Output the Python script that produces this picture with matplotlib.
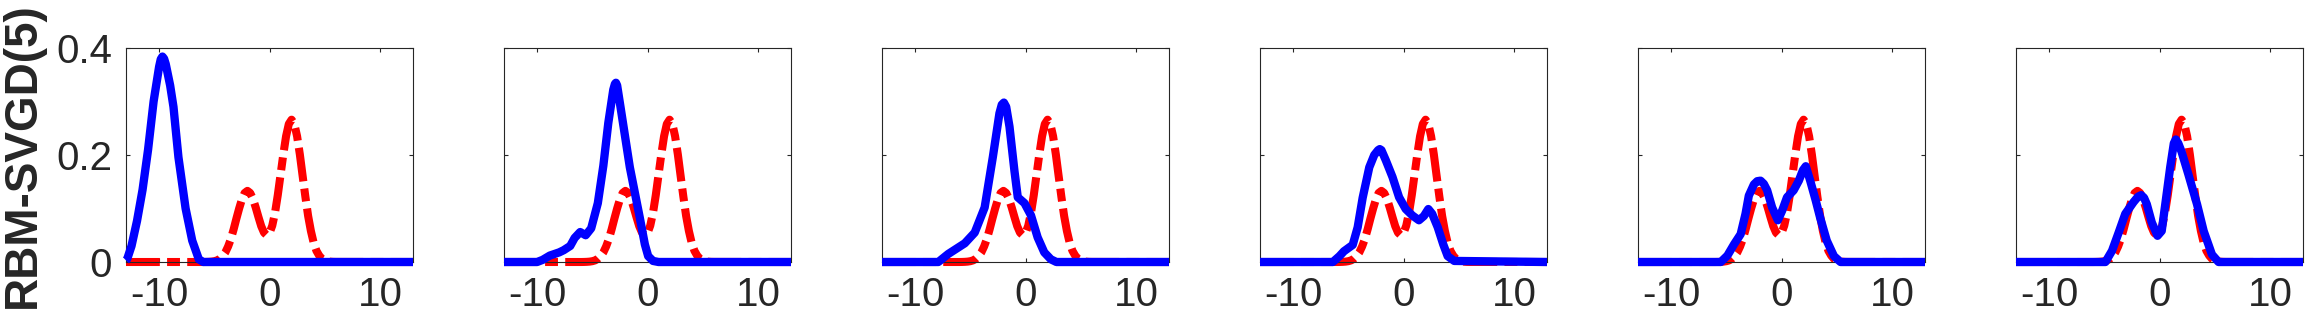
import matplotlib
matplotlib.use("Agg")
import matplotlib.pyplot as plt

# target density (red, same in every panel)
target_x = [-13, -6, -5.75, -5.5, -5.25, -5, -4.75, -4.5, -4.25, -4, -3.75, -3.5, -3.25, -3, -2.75,
            -2.5, -2.25, -2, -1.75, -1.5, -1.25, -1, -0.75, -0.5, -0.25, 0, 0.25, 0.5, 0.75, 1,
            1.25, 1.5, 1.75, 2, 2.25, 2.5, 2.75, 3, 3.25, 3.5, 3.75, 4, 4.25, 4.5, 4.75, 5,
            5.25, 5.5, 5.75, 6, 13]
target_y = [0, 0, 0.0001, 0.0003, 0.0007, 0.0015, 0.003, 0.006, 0.011, 0.018, 0.029, 0.043, 0.061, 0.081, 0.100,
            0.117, 0.129, 0.133, 0.129, 0.118, 0.102, 0.084, 0.067, 0.055, 0.050, 0.054, 0.068, 0.092, 0.125, 0.163,
            0.201, 0.235, 0.258, 0.266, 0.258, 0.235, 0.201, 0.161, 0.122, 0.086, 0.058, 0.036, 0.021, 0.012, 0.006, 0.003,
            0.0013, 0.0006, 0.0002, 0.0001, 0]

# RBM-SVGD(5) estimates, one per panel (blue)
est_x1 = [-13, -12.9, -12.5, -12, -11.5, -11, -10.5, -10, -9.85, -9.7, -9.55, -9.4, -9, -8.7, -8.25, -7.6, -7, -6.4, -6, 13]
est_y1 = [0.003, 0.005, 0.03, 0.077, 0.135, 0.21, 0.30, 0.365, 0.379, 0.384, 0.380, 0.370, 0.33, 0.29, 0.196, 0.10, 0.04, 0.005, 0, 0]

est_x2 = [-13, -10, -9.5, -8.85, -8, -7.6, -7, -6.6, -6.1, -5.6, -5.1, -4.5, -4.0, -3.55, -3.1, -2.95, -2.86, -2.75, -2.5,
          -2.05, -1.6, -1.15, -0.7, -0.24, 0.06, 0.5, 1, 13]
est_y2 = [0, 0, 0.004, 0.012, 0.018, 0.022, 0.03, 0.045, 0.056, 0.05, 0.063, 0.11, 0.18, 0.26, 0.322, 0.333, 0.335, 0.330, 0.297,
          0.237, 0.177, 0.13, 0.083, 0.033, 0.011, 0.002, 0, 0]

est_x3 = [-13, -7.9, -7.0, -5.5, -4.6, -3.7, -2.96, -2.36, -2.15, -1.96, -1.75, -1.45, -1.0, -0.7, -0.09, 0.5, 1.1, 1.7, 2.3, 2.8, 13]
est_y3 = [0, 0, 0.015, 0.035, 0.055, 0.102, 0.196, 0.278, 0.294, 0.298, 0.290, 0.253, 0.170, 0.121, 0.11, 0.087, 0.046, 0.018, 0.005, 0, 0]

est_x4 = [-13, -6.4, -5.8, -5.4, -4.6, -4.15, -3.7, -3.1, -2.65, -2.3, -2.15, -2.0, -1.6, -1.0, -0.4, 0.2, 0.8, 1.4, 1.85,
          2.25, 2.6, 3.1, 3.6, 4.0, 4.6, 13]
est_y4 = [0, 0, 0.011, 0.02, 0.032, 0.065, 0.12, 0.177, 0.2, 0.209, 0.211, 0.209, 0.19, 0.159, 0.121, 0.099, 0.087, 0.078, 0.086,
          0.099, 0.09, 0.065, 0.033, 0.011, 0.002, 0]

est_x5 = [-13, -5.5, -4.9, -4.3, -3.7, -3.26, -2.96, -2.5, -2.2, -1.9, -1.6, -1.3, -0.85, -0.33, 0.06, 0.5, 1.1, 1.57, 1.95,
          2.2, 2.6, 3.1, 3.5, 4.1, 4.75, 5.35, 13]
est_y5 = [0, 0, 0.012, 0.033, 0.052, 0.09, 0.124, 0.145, 0.151, 0.152, 0.146, 0.134, 0.102, 0.078, 0.096, 0.121, 0.134, 0.152, 0.172,
          0.179, 0.152, 0.115, 0.083, 0.04, 0.011, 0, 0]

est_x6 = [-13, -4.9, -4.3, -3.7, -3.1, -2.35, -1.95, -1.66, -1.4, -1.15, -0.7, -0.18, 0.2, 0.57, 0.97, 1.3, 1.48, 1.7, 2.0,
          2.6, 3.4, 4.0, 4.75, 5.35, 13]
est_y6 = [0, 0, 0.021, 0.055, 0.09, 0.112, 0.122, 0.125, 0.12, 0.108, 0.074, 0.049, 0.058, 0.115, 0.177, 0.222, 0.229, 0.222, 0.206,
          0.165, 0.108, 0.058, 0.014, 0, 0]

est_x = [est_x1, est_x2, est_x3, est_x4, est_x5, est_x6]
est_y = [est_y1, est_y2, est_y3, est_y4, est_y5, est_y6]

x_ticks = [-10, 0, 10]
y_ticks = [0, 0.2, 0.4]
y_ticklabels = ['0', '0.2', '0.4']
row_label = 'RBM-SVGD(5)'

plt.rcParams['font.family'] = ['Liberation Sans', 'DejaVu Sans']
plt.rcParams['axes.unicode_minus'] = False

W, H = 2311, 321
fig = plt.figure(figsize=(W / 100, H / 100), dpi=100)

axgray = '#262626'
for k in range(6):
    left = (126 + 378 * k) / W
    ax = fig.add_axes([left, 59 / H, 287 / W, 214 / H])
    ax.plot(target_x, target_y, color='red', lw=5.8, dashes=(4.2, 0.9, 1.6, 0.9),
            clip_on=False, zorder=2)
    ax.plot(est_x[k], est_y[k], color='blue', lw=6.0, solid_joinstyle='round',
            solid_capstyle='butt', clip_on=False, zorder=3)
    ax.set_xlim(-13, 13)
    ax.set_ylim(0, 0.4)
    ax.set_xticks(x_ticks)
    ax.set_yticks(y_ticks)
    ax.tick_params(direction='in', length=3, width=0.8, color=axgray, labelcolor=axgray,
                   labelsize=29, top=True, right=True, pad=10)
    if k == 0:
        ax.set_yticklabels(y_ticklabels)
    else:
        ax.set_yticklabels([])
    for s in ax.spines.values():
        s.set_color(axgray)
        s.set_linewidth(0.8)

fig.text(23 / W, 0.517, row_label, rotation=90, ha='center', va='center',
         fontsize=33, fontweight='bold', color=axgray)

fig.savefig('out.png', dpi=100)
